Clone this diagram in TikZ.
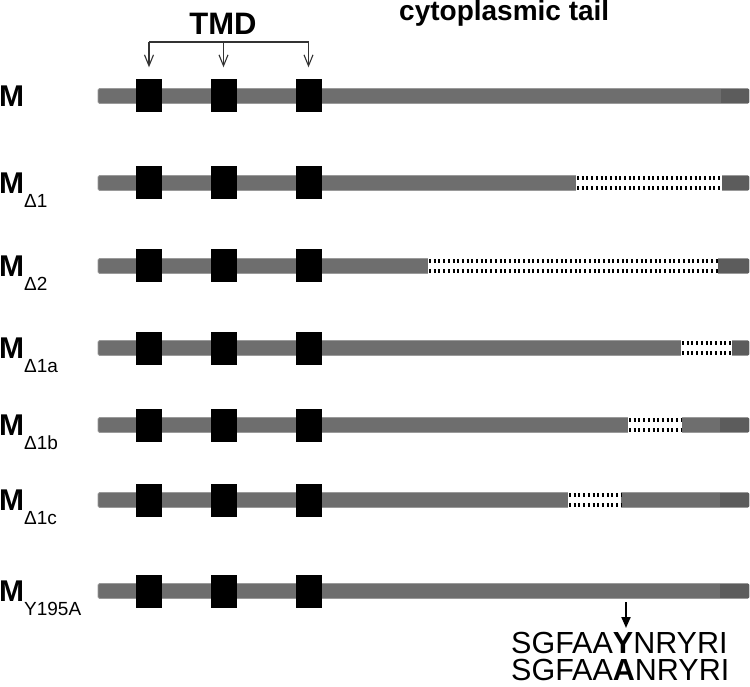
\documentclass[tikz,border=0pt]{standalone}
\usepackage{fontspec}
\setmainfont{Liberation Sans}
\usetikzlibrary{arrows.meta}
\definecolor{bargray}{HTML}{6E6E6E}
\definecolor{endgray}{HTML}{5C5C5C}
\definecolor{edgegray}{HTML}{9A9A9A}
\definecolor{brk}{HTML}{333333}
\tikzset{
 bar/.style={fill=bargray, draw=edgegray, line width=0.8pt, rounded corners=1.5pt},
 barend/.style={fill=endgray, draw=none},
 tmdbox/.style={fill=black, draw=none, minimum width=26pt, minimum height=33pt, inner sep=0pt},
 delbox/.style={fill=white, draw=none},
 dotrow/.style={line width=4.5pt, dash pattern=on 2pt off 2.7pt, black},
 lab/.style={anchor=base west, inner sep=0pt, font=\fontsize{30}{34}\selectfont\bfseries},
 brack/.style={draw=brk, line width=1.1pt},
 tip/.style={-{Straight Barb[length=11pt,width=9pt,line width=1.1pt]}},
 seqtxt/.style={anchor=base west, inner sep=0pt, font=\fontsize{30.5}{27}\selectfont}
}
\newcommand{\subtxt}[1]{\raisebox{-14pt}{\fontsize{19}{22}\selectfont\mdseries #1}}
\begin{document}
\begin{tikzpicture}[x=1pt,y=-1pt]
\useasboundingbox (0,0) rectangle (750,687);
% bars, end segments, labels, TMD boxes
\foreach \c/\sub/\de/\r in {96/{}/721/A,183/{Δ1}/722/B,266/{Δ2}/718/C,348/{Δ1a}/732/D,425/{Δ1b}/720/E,500/{Δ1c}/720/F,591/{Y195A}/720/G}{
  \draw[bar] (98,\c-7.5) rectangle (749,\c+7.5);
  \fill[barend] (\de,\c-7) rectangle (748.6,\c+7);
  \node[lab] (lab\r) at (-1,\c+10.5) {M\subtxt{\sub}};
  \node[tmdbox] (\r1) at (149,\c) {};
  \node[tmdbox] (\r2) at (223.5,\c) {};
  \node[tmdbox] (\r3) at (308.5,\c) {};
}
% deletions
\foreach \c/\da/\db in {183/576/722,266/428/718,348/681/732,425/628/682,500/568/621}{
  \fill[delbox] (\da,\c-8) rectangle (\db,\c+8);
  \draw[dotrow] (\da+1,\c-5) -- (\db,\c-5);
  \draw[dotrow] (\da+1,\c+5) -- (\db,\c+5);
}
% headings
\node[anchor=base, inner sep=0pt, font=\fontsize{31}{36}\selectfont\bfseries] (tmd) at (223,35) {TMD};
\node[anchor=base west, inner sep=0pt, font=\fontsize{28}{34}\selectfont\bfseries] (cyt) at (399,21) {cytoplasmic tail};
% bracket
\coordinate (bl) at (149,42);
\coordinate (bm) at (223.5,42);
\coordinate (br) at (308.5,42);
\draw[brack] (bl) -- (br);
\draw[brack,tip] (bl) -- ([yshift=12pt]A1.north);
\draw[brack,tip] (bm) -- ([yshift=12pt]A2.north);
\draw[brack,tip] (br) -- ([yshift=12pt]A3.north);
% sequences
\node[seqtxt] (seq) at (511,680) {\vbox{\baselineskip=27pt\lineskiplimit=-30pt\hbox{SGFAA\textbf{Y}NRYRI}\hbox{SGFAA\textbf{A}NRYRI}}};
\coordinate (mut) at (626,602);
\coordinate (mutt) at (626,628);
\draw[line width=2pt, -{Triangle[length=11pt,width=9pt]}] (mut) -- (mutt);
\end{tikzpicture}
\end{document}
